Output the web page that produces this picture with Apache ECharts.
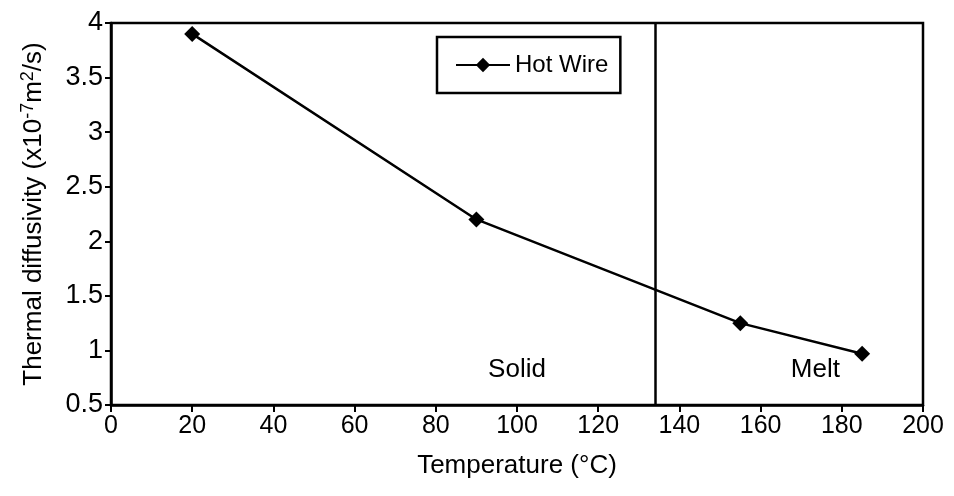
<!DOCTYPE html>
<html>
<head>
<meta charset="utf-8">
<script src="https://cdn.jsdelivr.net/npm/echarts@6/dist/echarts.min.js"></script>
<style>
  html, body { margin: 0; padding: 0; background: #fff; }
  #chart { width: 954px; height: 496px; }
</style>
</head>
<body>
<div id="chart"></div>
<script>
// data
const temperature = [20, 90, 155, 185]
const diffusivity = [3.9, 2.2, 1.25, 0.97]
const seriesName = 'Hot Wire'
const meltLine = 134
const regionLabels = [
  { name: 'Solid', coord: [100, 0.82] },
  { name: 'Melt', coord: [173.5, 0.82] },
]

const font = 'Liberation Sans, Arial, sans-serif'
const chart = echarts.init(document.getElementById('chart'))

chart.setOption({
  animation: false,
  textStyle: { fontFamily: font },
  grid: {
    left: 111, right: 31, top: 23, bottom: 91,
    show: true, borderColor: '#000', borderWidth: 2.5, backgroundColor: 'transparent',
  },
  legend: {
    left: 437, top: 37, width: 175, height: 40,
    padding: [16, 12, 16, 18],
    borderColor: '#000', borderWidth: 2.5,
    itemWidth: 54, itemHeight: 18, itemGap: 4,
    data: [seriesName],
    textStyle: { fontSize: 24, color: '#000', fontFamily: font },
  },
  xAxis: {
    type: 'value', min: 0, max: 200, interval: 20,
    name: 'Temperature (°C)',
    nameLocation: 'middle', nameGap: 48,
    nameTextStyle: { fontSize: 26, color: '#000', fontFamily: font },
    axisLine: { lineStyle: { color: '#000', width: 2.5 } },
    axisTick: { length: 7, lineStyle: { color: '#000', width: 2 } },
    axisLabel: { fontSize: 25, color: '#000', margin: 9 },
    splitLine: { show: false },
  },
  yAxis: {
    type: 'value', min: 0.5, max: 4, interval: 0.5,
    name: '{a|Thermal diffusivity (x10}{s|-7}{a|m}{s|2}{a|/s)}',
    nameLocation: 'middle', nameGap: 62,
    nameTextStyle: {
      rich: {
        a: { fontSize: 26, color: '#000', fontFamily: font },
        s: { fontSize: 18, color: '#000', fontFamily: font, verticalAlign: 'top', padding: [0, 0, 12, 0] },
      },
    },
    axisLine: { lineStyle: { color: '#000', width: 2.5 } },
    axisTick: { length: 6, lineStyle: { color: '#000', width: 2 } },
    axisLabel: { fontSize: 27, color: '#000', margin: 8 },
    splitLine: { show: false },
  },
  series: [
    {
      name: seriesName,
      type: 'line',
      data: temperature.map((t, i) => [t, diffusivity[i]]),
      symbol: 'diamond',
      symbolSize: 16,
      itemStyle: { color: '#000' },
      lineStyle: { color: '#000', width: 2.5 },
      markLine: {
        silent: true,
        symbol: 'none',
        label: { show: false },
        lineStyle: { color: '#000', width: 2.5, type: 'solid' },
        data: [{ xAxis: meltLine }],
      },
      markPoint: {
        symbol: 'circle',
        symbolSize: 0,
        label: {
          show: true, position: 'inside',
          formatter: '{b}', fontSize: 26, color: '#000', fontFamily: font,
        },
        data: regionLabels,
      },
    },
  ],
})
</script>
</body>
</html>
